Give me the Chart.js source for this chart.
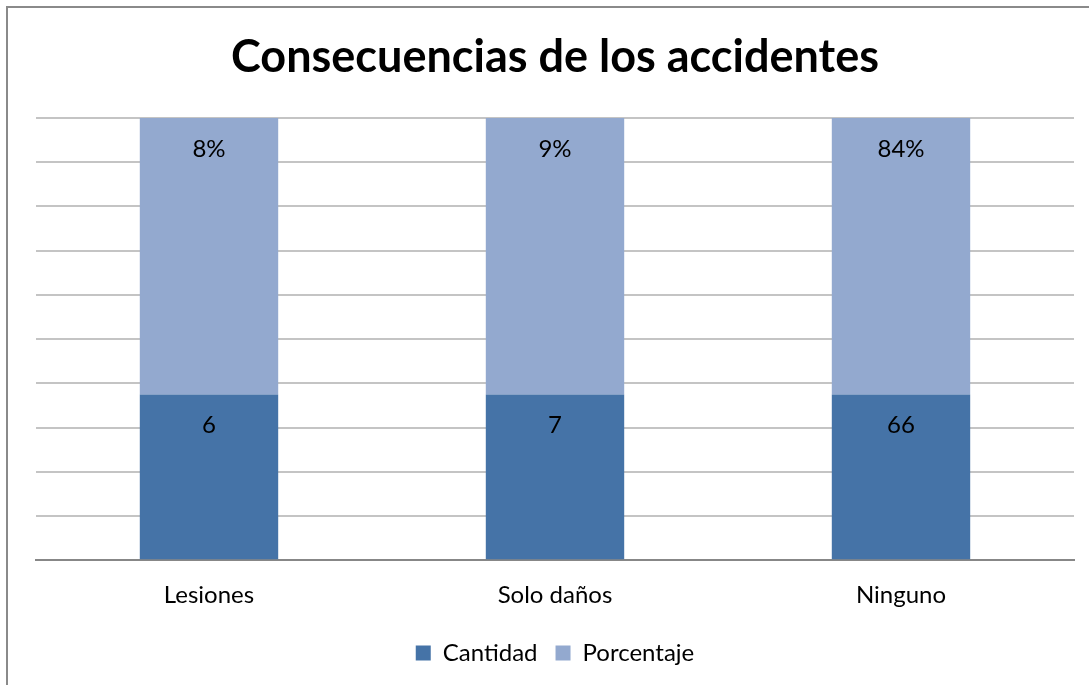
<!DOCTYPE html>
<html lang="es">
<head>
    <meta charset="UTF-8">
    <title>Consecuencias de los accidentes</title>
    <script src="https://cdn.jsdelivr.net/npm/chart.js"></script>
    <style>
        html, body { margin: 0; padding: 0; overflow: hidden; background: #fff; }
        .frame {
            position: absolute; left: 6px; top: 6px;
            width: 1100px; height: 700px;
            border: 2px solid #8a8a8a;
        }
    </style>
</head>
<body>
<div class="frame">
    <canvas id="chart" width="1094" height="677"></canvas>
</div>

<script>
    const categories = ["Lesiones", "Solo daños", "Ninguno"];
    const cantidad = [6, 7, 66];
    const porcentaje = ["8%", "9%", "84%"];
    // share of each column taken by each series (100% stacked)
    const cantidadShare = [37.5, 37.5, 37.5];
    const porcentajeShare = [62.5, 62.5, 62.5];

    const FONT = "Lato, 'Open Sans', sans-serif";

    // labels near the top of each segment, like Excel "inside end"
    const segmentLabels = {
        id: "segmentLabels",
        afterDatasetsDraw(chart) {
            const ctx = chart.ctx;
            ctx.save();
            ctx.font = "24px " + FONT;
            ctx.fillStyle = "#000";
            ctx.textAlign = "center";
            ctx.textBaseline = "middle";
            chart.data.datasets.forEach((ds, i) => {
                chart.getDatasetMeta(i).data.forEach((bar, j) => {
                    ctx.fillText(ds.labelsText[j], bar.x, bar.y + 31);
                });
            });
            ctx.restore();
        }
    };

    new Chart(document.getElementById("chart"), {
        type: "bar",
        data: {
            labels: categories,
            datasets: [
                {
                    label: "Cantidad",
                    data: cantidadShare,
                    labelsText: cantidad.map(String),
                    backgroundColor: "#4573a7"
                },
                {
                    label: "Porcentaje",
                    data: porcentajeShare,
                    labelsText: porcentaje,
                    backgroundColor: "#93a9cf"
                }
            ]
        },
        options: {
            responsive: false,
            animation: false,
            layout: { padding: { left: 28, right: 28, top: 0, bottom: 10 } },
            datasets: { bar: { barPercentage: 0.4, categoryPercentage: 1 } },
            scales: {
                x: {
                    stacked: true,
                    grid: { display: false },
                    border: { color: "#878787", width: 2 },
                    ticks: { color: "#000", font: { family: FONT, size: 24 }, padding: 13 }
                },
                y: {
                    stacked: true,
                    min: 0,
                    max: 100,
                    ticks: { display: false, stepSize: 10 },
                    grid: { color: "#c4c4c4", lineWidth: 2, drawTicks: false },
                    border: { display: false }
                }
            },
            plugins: {
                title: {
                    display: true,
                    text: "Consecuencias de los accidentes",
                    color: "#000",
                    font: { family: FONT, size: 45, weight: "bold" },
                    padding: { top: 22, bottom: 34 }
                },
                legend: {
                    position: "bottom",
                    labels: {
                        color: "#000",
                        font: { family: FONT, size: 24 },
                        boxWidth: 15,
                        boxHeight: 15,
                        padding: 18
                    }
                },
                tooltip: { enabled: false }
            }
        },
        plugins: [segmentLabels]
    });
</script>
</body>
</html>
